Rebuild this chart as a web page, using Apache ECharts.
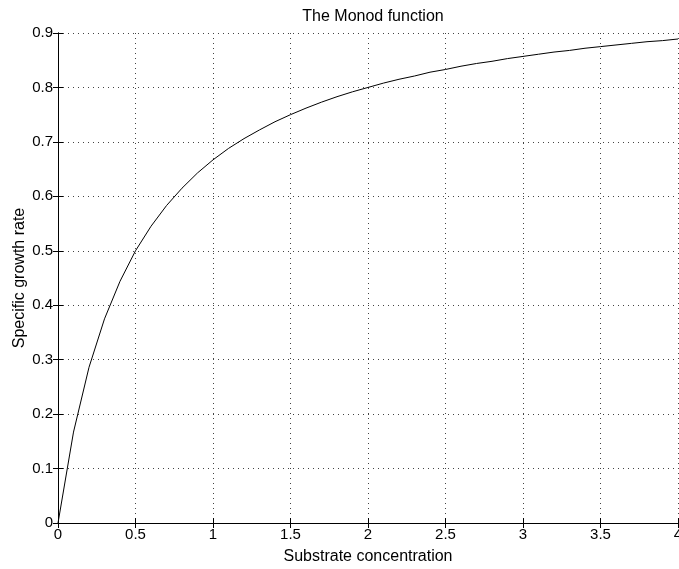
<!DOCTYPE html>
<html>
<head>
<meta charset="utf-8">
<script src="https://cdn.jsdelivr.net/npm/echarts@6/dist/echarts.min.js"></script>
<style>
  html, body { margin: 0; padding: 0; background: #fff; }
  #chart { width: 679px; height: 569px; }
</style>
</head>
<body>
<div id="chart"></div>
<script>
// substrate concentration samples
const substrate = [0, 0.1, 0.2, 0.3, 0.4, 0.5, 0.6, 0.7, 0.8, 0.9, 1.0,
  1.1, 1.2, 1.3, 1.4, 1.5, 1.6, 1.7, 1.8, 1.9, 2.0,
  2.1, 2.2, 2.3, 2.4, 2.5, 2.6, 2.7, 2.8, 2.9, 3.0,
  3.1, 3.2, 3.3, 3.4, 3.5, 3.6, 3.7, 3.8, 3.9, 4.0]
// specific growth rate
const growthRate = [0, 0.167, 0.286, 0.375, 0.444, 0.5, 0.545, 0.583, 0.615, 0.643, 0.667,
  0.688, 0.706, 0.722, 0.737, 0.75, 0.762, 0.773, 0.783, 0.792, 0.8,
  0.808, 0.815, 0.821, 0.828, 0.833, 0.839, 0.844, 0.848, 0.853, 0.857,
  0.861, 0.865, 0.868, 0.872, 0.875, 0.878, 0.881, 0.884, 0.886, 0.889]

const font = 'Liberation Sans, Arial, Helvetica, sans-serif'
const chart = echarts.init(document.getElementById('chart'))

const axisLine = { show: true, lineStyle: { color: '#000', width: 1 } }
const axisTick = { show: true, inside: true, length: 5, lineStyle: { color: '#000' } }
const splitLine = { show: true, lineStyle: { color: '#444', type: [1, 4], width: 1 } }

chart.setOption({
  animation: false,
  title: {
    text: 'The Monod function',
    left: 368,
    top: 4,
    textAlign: 'center',
    textStyle: { fontFamily: font, fontSize: 16, fontWeight: 'normal', color: '#000' }
  },
  grid: { left: 58, right: 1, top: 33, bottom: 46, outerBoundsMode: 'none' },
  xAxis: [
    {
      type: 'value', min: 0, max: 4, interval: 0.5,
      name: 'Substrate concentration', nameLocation: 'middle', nameGap: 26,
      nameTextStyle: { fontFamily: font, fontSize: 16, color: '#000' },
      axisLine, axisTick, splitLine,
      axisLabel: { color: '#000', fontFamily: font, fontSize: 15, margin: 4, showMaxLabel: true, hideOverlap: false }
    },
    {
      type: 'value', position: 'top', min: 0, max: 4, interval: 0.5,
      axisLine, axisTick, splitLine: { show: false }, axisLabel: { show: false }
    }
  ],
  yAxis: [
    {
      type: 'value', min: 0, max: 0.9, interval: 0.1,
      name: 'Specific growth rate', nameLocation: 'middle', nameGap: 30, nameMoveOverlap: false,
      nameTextStyle: { fontFamily: font, fontSize: 16, color: '#000' },
      axisLine, axisTick, splitLine,
      axisLabel: { color: '#000', fontFamily: font, fontSize: 15, margin: 5 }
    },
    {
      type: 'value', position: 'right', min: 0, max: 0.9, interval: 0.1,
      axisLine, axisTick, splitLine: { show: false }, axisLabel: { show: false }
    }
  ],
  series: [
    {
      type: 'line',
      data: substrate.map((s, i) => [s, growthRate[i]]),
      showSymbol: false,
      lineStyle: { color: '#000', width: 1 },
      z: 5
    }
  ]
})
</script>
</body>
</html>
